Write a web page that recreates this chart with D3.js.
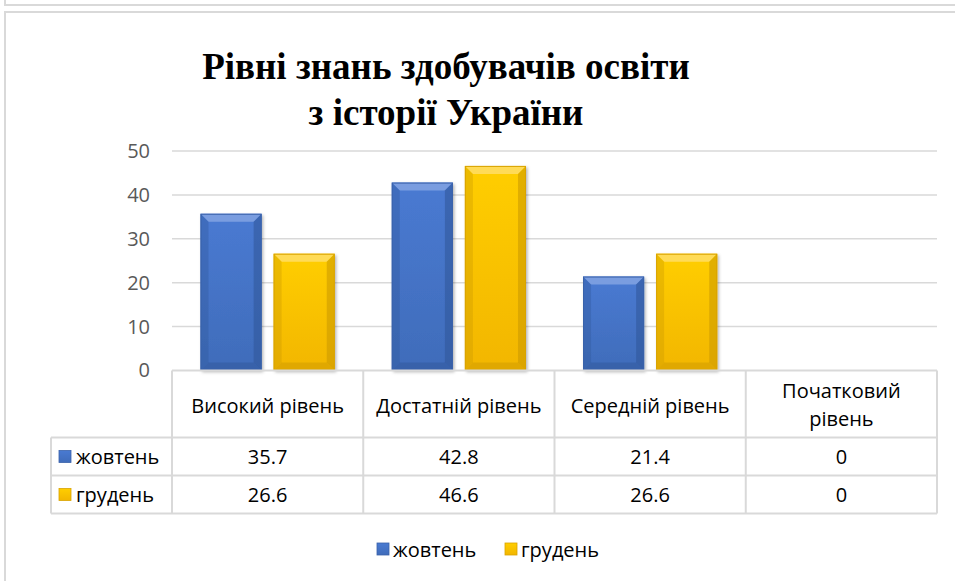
<!DOCTYPE html>
<html>
<head>
<meta charset="utf-8">
<script src="https://cdn.jsdelivr.net/npm/d3@7"></script>
<style>
  body { margin: 0; background: #fff; }
  svg { display: block; }
</style>
</head>
<body>
<script>
// chart data
var categories = ["Високий рівень", "Достатній рівень", "Середній рівень", "Початковий рівень"];
var seriesNames = ["жовтень", "грудень"];
var october = [35.7, 42.8, 21.4, 0];
var december = [26.6, 46.6, 26.6, 0];
var yTicks = [0, 10, 20, 30, 40, 50];
var titleLines = ["Рівні знань здобувачів освіти", "з історії України"];

var width = 955, height = 581;
var plotLeft = 172, plotRight = 937, plotTop = 151, plotBottom = 370.5;
var tableLeft = 51, rowH = 38, headH = 67;
var gridColor = "#d9d9d9";
var sansFont = "'Open Sans', 'Noto Sans', sans-serif";
var fontSize = "20px";

var colors = {
  "жовтень": { base: "#4472c4", light: "#7d9fe0", dark: "#2f5597", edge: "#3a62aa" },
  "грудень": { base: "#ffc000", light: "#ffdb5c", dark: "#c99700", edge: "#d9a300" }
};
var values = { "жовтень": october, "грудень": december };

var svg = d3.select("body").append("svg")
  .attr("width", width)
  .attr("height", height);

// outer frames (part of the page around the chart)
svg.append("path")
  .attr("d", "M5,0 V5 H955")
  .attr("fill", "none").attr("stroke", gridColor).attr("stroke-width", 2);
svg.append("path")
  .attr("d", "M5,581 V12 H955")
  .attr("fill", "none").attr("stroke", gridColor).attr("stroke-width", 2);

// title
svg.append("text")
  .attr("x", 446)
  .attr("y", 79)
  .attr("text-anchor", "middle")
  .style("font-family", "'Liberation Serif', 'Times New Roman', serif")
  .style("font-weight", "bold")
  .style("font-size", "37px")
  .selectAll("tspan")
  .data(titleLines)
  .enter()
  .append("tspan")
    .attr("x", 446)
    .attr("dy", function (d, i) { return i === 0 ? 0 : 46; })
    .text(function (d) { return d; });

var x = d3.scaleBand().domain(categories).range([plotLeft, plotRight]);
var xs = d3.scaleBand().domain(seriesNames).range([0, x.bandwidth()])
  .paddingInner(0.164).paddingOuter(0.39);
var y = d3.scaleLinear().domain([0, 50]).range([plotBottom, plotTop]);

// gridlines
svg.append("g")
  .selectAll("line")
  .data(yTicks.slice(1))
  .enter()
  .append("line")
    .attr("x1", plotLeft).attr("x2", plotRight)
    .attr("y1", function (d) { return y(d); })
    .attr("y2", function (d) { return y(d); })
    .attr("stroke", gridColor)
    .attr("stroke-width", 1.5);

// y axis labels
var yAxis = svg.append("g")
  .attr("transform", "translate(" + (plotLeft - 22) + ",0)")
  .call(d3.axisLeft(y).tickValues(yTicks).tickSize(0).tickPadding(0));
yAxis.select(".domain").remove();
yAxis.selectAll("text")
  .style("font-family", sansFont)
  .style("font-size", fontSize)
  .attr("fill", "#595959");

// bars with bevel effect
var defs = svg.append("defs");
var shadow = defs.append("filter").attr("id", "shadow")
  .attr("x", "-20%").attr("y", "-10%").attr("width", "140%").attr("height", "120%");
shadow.append("feDropShadow")
  .attr("dx", 1.5).attr("dy", 1.5).attr("stdDeviation", 1.5)
  .attr("flood-color", "#000").attr("flood-opacity", 0.3);

seriesNames.forEach(function (s) {
  var g = defs.append("linearGradient").attr("id", "grad-" + s)
    .attr("x1", 0).attr("y1", 0).attr("x2", 0).attr("y2", 1);
  g.append("stop").attr("offset", "0%").attr("stop-color", d3.color(colors[s].base).brighter(0.2));
  g.append("stop").attr("offset", "100%").attr("stop-color", d3.color(colors[s].base).darker(0.15));
});

var bevel = 8;
var groups = svg.append("g").selectAll("g")
  .data(seriesNames)
  .enter()
  .append("g");

groups.each(function (s) {
  var c = colors[s];
  var bars = d3.select(this).selectAll("g")
    .data(categories.map(function (cat, i) { return { cat: cat, v: values[s][i] }; })
      .filter(function (d) { return d.v > 0; }))
    .enter()
    .append("g");

  bars.append("rect")
    .attr("x", function (d) { return x(d.cat) + xs(s); })
    .attr("y", function (d) { return y(d.v); })
    .attr("width", xs.bandwidth())
    .attr("height", function (d) { return y(0) - y(d.v); })
    .attr("fill", "url(#grad-" + s + ")")
    .attr("filter", "url(#shadow)");

  function poly(fn, fill, op) {
    bars.append("path")
      .attr("d", function (d) {
        var x0 = x(d.cat) + xs(s), x1 = x0 + xs.bandwidth();
        var y0 = y(d.v), y1 = y(0);
        return fn(x0, x1, y0, y1);
      })
      .attr("fill", fill)
      .attr("opacity", op);
  }
  // top bevel (lighter)
  poly(function (x0, x1, y0) {
    return "M" + x0 + "," + y0 + "H" + x1 + "L" + (x1 - bevel) + "," + (y0 + bevel) +
      "H" + (x0 + bevel) + "Z";
  }, c.light, 0.95);
  // left bevel
  poly(function (x0, x1, y0, y1) {
    return "M" + x0 + "," + y0 + "L" + (x0 + bevel) + "," + (y0 + bevel) +
      "V" + (y1 - bevel) + "L" + x0 + "," + y1 + "Z";
  }, c.dark, 0.35);
  // right bevel
  poly(function (x0, x1, y0, y1) {
    return "M" + x1 + "," + y0 + "L" + (x1 - bevel) + "," + (y0 + bevel) +
      "V" + (y1 - bevel) + "L" + x1 + "," + y1 + "Z";
  }, c.dark, 0.55);
  // bottom bevel
  poly(function (x0, x1, y0, y1) {
    return "M" + x0 + "," + y1 + "H" + x1 + "L" + (x1 - bevel) + "," + (y1 - bevel) +
      "H" + (x0 + bevel) + "Z";
  }, c.dark, 0.45);
  // outline
  bars.append("rect")
    .attr("x", function (d) { return x(d.cat) + xs(s) + 0.5; })
    .attr("y", function (d) { return y(d.v) + 0.5; })
    .attr("width", xs.bandwidth() - 1)
    .attr("height", function (d) { return y(0) - y(d.v) - 1; })
    .attr("fill", "none")
    .attr("stroke", c.edge)
    .attr("stroke-width", 1);
});

// data table
var table = svg.append("g");
var rowTop = plotBottom + headH;
var tableBottom = rowTop + rowH * seriesNames.length;

// horizontal lines
table.append("line")
  .attr("x1", plotLeft).attr("x2", plotRight).attr("y1", plotBottom).attr("y2", plotBottom)
  .attr("stroke", gridColor).attr("stroke-width", 2);
[0, 1, 2].forEach(function (i) {
  table.append("line")
    .attr("x1", tableLeft).attr("x2", plotRight)
    .attr("y1", rowTop + i * rowH).attr("y2", rowTop + i * rowH)
    .attr("stroke", gridColor).attr("stroke-width", 2);
});
// vertical lines
var vx = categories.map(function (c) { return x(c); }).concat([plotRight]);
table.selectAll(".vline")
  .data(vx)
  .enter()
  .append("line")
    .attr("x1", function (d) { return d; }).attr("x2", function (d) { return d; })
    .attr("y1", plotBottom).attr("y2", tableBottom)
    .attr("stroke", gridColor).attr("stroke-width", 2);
table.append("line")
  .attr("x1", tableLeft).attr("x2", tableLeft)
  .attr("y1", rowTop).attr("y2", tableBottom)
  .attr("stroke", gridColor).attr("stroke-width", 2);

// header labels (wrap when wider than the column)
categories.forEach(function (cat) {
  var t = table.append("text")
    .attr("x", x(cat) + x.bandwidth() / 2)
    .attr("text-anchor", "middle")
    .style("font-family", sansFont)
    .style("font-size", fontSize)
    .attr("fill", "#000")
    .text(cat);
  var w = t.node().getComputedTextLength();
  if (w > x.bandwidth() - 12) {
    var words = cat.split(" ");
    t.text(null);
    words.forEach(function (wd, i) {
      t.append("tspan")
        .attr("x", x(cat) + x.bandwidth() / 2)
        .attr("dy", i === 0 ? 0 : 28)
        .text(wd);
    });
    t.attr("y", plotBottom + 27);
  } else {
    t.attr("y", plotBottom + 42);
  }
});

// value rows
seriesNames.forEach(function (s, r) {
  var cy = rowTop + r * rowH + rowH / 2;
  table.append("rect")
    .attr("x", 59).attr("y", cy - 6)
    .attr("width", 12).attr("height", 12)
    .attr("fill", "url(#grad-" + s + ")")
    .attr("stroke", colors[s].edge).attr("stroke-width", 0.8);
  table.append("text")
    .attr("x", 76).attr("y", cy + 7)
    .style("font-family", sansFont)
    .style("font-size", fontSize)
    .text(s);
  categories.forEach(function (cat, i) {
    table.append("text")
      .attr("x", x(cat) + x.bandwidth() / 2)
      .attr("y", cy + 7)
      .attr("text-anchor", "middle")
      .style("font-family", sansFont)
      .style("font-size", fontSize)
      .text(values[s][i]);
  });
});

// legend
var legend = svg.append("g");
var legendX = [377, 505];
seriesNames.forEach(function (s, i) {
  legend.append("rect")
    .attr("x", legendX[i]).attr("y", 543)
    .attr("width", 12).attr("height", 12)
    .attr("fill", "url(#grad-" + s + ")")
    .attr("stroke", colors[s].edge).attr("stroke-width", 0.8);
  legend.append("text")
    .attr("x", legendX[i] + 16).attr("y", 557)
    .style("font-family", sansFont)
    .style("font-size", fontSize)
    .text(s);
});
</script>
</body>
</html>
